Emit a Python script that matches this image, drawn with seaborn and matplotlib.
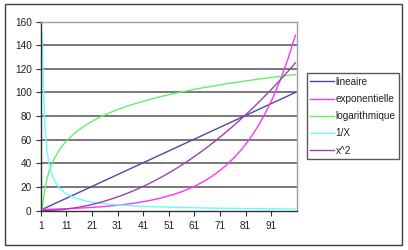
import matplotlib
matplotlib.use("Agg")
import matplotlib.pyplot as plt
import seaborn as sns
import pandas as pd
from matplotlib.patches import Rectangle

# ---- data ----
x_values = [1, 2, 3, 4, 5, 6, 7, 8, 9, 10, 13, 16, 19, 22, 25, 28, 31, 34, 37, 40,
            43, 46, 49, 52, 55, 58, 61, 64, 67, 70, 73, 76, 79, 82, 85, 88, 91, 94, 97, 100]
lineaire = [1, 2, 3, 4, 5, 6, 7, 8, 9, 10, 13, 16, 19, 22, 25, 28, 31, 34, 37, 40,
            43, 46, 49, 52, 55, 58, 61, 64, 67, 70, 73, 76, 79, 82, 85, 88, 91, 94, 97, 100]
exponentielle = [1.05, 1.11, 1.16, 1.22, 1.28, 1.35, 1.42, 1.49, 1.57, 1.65, 1.92, 2.23, 2.59, 3.0,
                 3.49, 4.06, 4.71, 5.47, 6.36, 7.39, 8.58, 9.97, 11.6, 13.5, 15.6, 18.2, 21.1,
                 24.5, 28.5, 33.1, 38.5, 44.7, 51.9, 60.3, 70.1, 81.5, 94.6, 110.0, 127.7, 148.4]
logarithmique = [0, 17.3, 27.5, 34.7, 40.2, 44.8, 48.6, 52.0, 54.9, 57.6, 64.1, 69.3, 73.6, 77.3,
                 80.5, 83.3, 85.8, 88.2, 90.3, 92.2, 94.0, 95.7, 97.3, 98.8, 100.2, 101.5, 102.8,
                 104.0, 105.1, 106.2, 107.3, 108.3, 109.2, 110.2, 111.1, 111.9, 112.8, 113.6, 114.4, 115.1]
inverse = [150, 75, 50, 37.5, 30, 25, 21.4, 18.8, 16.7, 15, 11.5, 9.4, 7.9, 6.8, 6.0, 5.4, 4.8,
           4.4, 4.1, 3.75, 3.5, 3.3, 3.1, 2.9, 2.7, 2.6, 2.5, 2.3, 2.2, 2.1, 2.1, 2.0, 1.9, 1.8,
           1.8, 1.7, 1.6, 1.6, 1.5, 1.5]
carre = [0.01, 0.05, 0.11, 0.2, 0.31, 0.45, 0.61, 0.8, 1.01, 1.25, 2.1, 3.2, 4.5, 6.05, 7.8,
         9.8, 12.0, 14.45, 17.1, 20.0, 23.1, 26.45, 30.0, 33.8, 37.8, 42.05, 46.5, 51.2, 56.1,
         61.25, 66.6, 72.2, 78.0, 84.05, 90.3, 96.8, 103.5, 110.45, 117.6, 125.0]

series_names = ["lineaire", "exponentielle", "logarithmique", "1/X", "x^2"]
series_values = [lineaire, exponentielle, logarithmique, inverse, carre]
colors = ["#4a4aa2", "#ff33ff", "#66ee66", "#66ffff", "#a040b0"]
x_tick_labels = [1, 11, 21, 31, 41, 51, 61, 71, 81, 91]
y_ticks = [0, 20, 40, 60, 80, 100, 120, 140, 160]

rows = []
for name, vals in zip(series_names, series_values):
    for xv, yv in zip(x_values, vals):
        rows.append({"x": xv, "y": yv, "serie": name})
df = pd.DataFrame(rows)

plt.rcParams["font.family"] = ["Liberation Sans", "DejaVu Sans"]

fig = plt.figure(figsize=(4.08, 2.5), dpi=100)
fig.patch.set_facecolor("white")
ax = fig.add_axes([40.7 / 408, 39.3 / 250, 256 / 408, 189.2 / 250])

sns.lineplot(data=df, x="x", y="y", hue="serie", hue_order=series_names,
             palette=dict(zip(series_names, colors)), linewidth=1.0,
             ax=ax, legend=False, estimator=None, sort=False)

ax.set_xlim(0.5, 100.5)
ax.set_ylim(0, 160)
ax.set_yticks(y_ticks)
ax.set_yticklabels([str(v) for v in y_ticks])
ax.set_xticks([v - 0.5 for v in x_tick_labels])
ax.set_xticklabels([str(v) for v in x_tick_labels])
ax.set_xlabel("")
ax.set_ylabel("")

for yv in y_ticks[1:-1]:
    ax.axhline(yv, color="#6e6e6e", linewidth=1.3, zorder=0)

for side in ["top", "right"]:
    ax.spines[side].set_color("#a0a0a0")
    ax.spines[side].set_linewidth(1.0)
for side in ["left", "bottom"]:
    ax.spines[side].set_color("#303030")
    ax.spines[side].set_linewidth(1.0)

ax.tick_params(axis="both", direction="out", length=3.5, width=0.8, color="#303030",
               labelsize=7.2, labelcolor="#202020")
ax.tick_params(axis="x", pad=4)
ax.tick_params(axis="y", pad=3)

handles = [plt.Line2D([], [], color=c, linewidth=1.0) for c in colors]
leg = fig.legend(handles, series_names, loc="upper left",
                 bbox_to_anchor=(306.7 / 408, 1 - 73.3 / 250), borderaxespad=0,
                 fontsize=7.2, frameon=True, fancybox=False, handlelength=2.4,
                 handletextpad=0.15, labelspacing=0.72, borderpad=0.35)
leg.get_frame().set_edgecolor("#303030")
leg.get_frame().set_linewidth(1.0)
for t in leg.get_texts():
    t.set_color("#202020")

fig.patches.append(Rectangle((5 / 408, 5 / 250), 397 / 408, 241 / 250,
                             transform=fig.transFigure, fill=False,
                             edgecolor="#404040", linewidth=1.0))

fig.savefig("out.png", dpi=100)
